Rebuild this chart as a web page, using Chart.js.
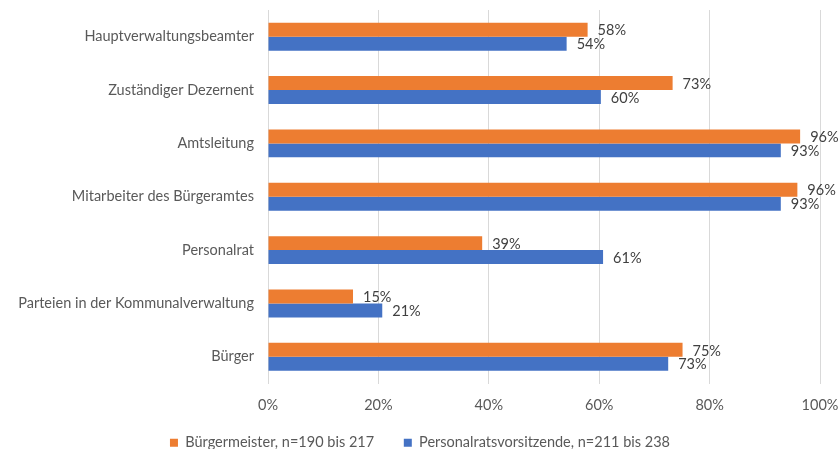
<!DOCTYPE html>
<html>
<head>
    <meta charset="utf-8">
    <title>Einbindung Bürgeramt</title>
    <script src="https://cdn.jsdelivr.net/npm/chart.js"></script>
    <style>
        body { margin: 0; background: #fff; }
        #wrap { width: 840px; height: 449px; }
    </style>
</head>
<body>
    <div id="wrap"><canvas id="grafico"></canvas></div>
    <script>
        // Daten
        const kategorien = [
            'Hauptverwaltungsbeamter',
            'Zuständiger Dezernent',
            'Amtsleitung',
            'Mitarbeiter des Bürgeramtes',
            'Personalrat',
            'Parteien in der Kommunalverwaltung',
            'Bürger'
        ];
        const buergermeister = [57.9, 73.3, 96.4, 95.9, 38.8, 15.4, 75.1];
        const personalrat = [54.1, 60.3, 92.9, 92.9, 60.7, 20.7, 72.5];
        const labelsBuergermeister = ['58%', '73%', '96%', '96%', '39%', '15%', '75%'];
        const labelsPersonalrat = ['54%', '60%', '93%', '93%', '61%', '21%', '73%'];
        const xTicks = [0, 20, 40, 60, 80, 100];

        const schrift = "Lato, 'Open Sans', sans-serif";
        const groesse = 14.5;

        // Werte rechts neben den Balken
        const wertLabels = {
            id: 'wertLabels',
            afterDatasetsDraw(chart) {
                const ctx = chart.ctx;
                ctx.save();
                ctx.font = groesse + 'px ' + schrift;
                ctx.fillStyle = '#404040';
                ctx.textBaseline = 'middle';
                ctx.textAlign = 'left';
                chart.data.datasets.forEach((ds, i) => {
                    const meta = chart.getDatasetMeta(i);
                    meta.data.forEach((bar, j) => {
                        ctx.fillText(ds.wertText[j], bar.x + 10, bar.y + 1);
                    });
                });
                ctx.restore();
            }
        };

        new Chart(document.getElementById('grafico'), {
            type: 'bar',
            data: {
                labels: kategorien,
                datasets: [{
                    label: 'Bürgermeister, n=190 bis 217',
                    data: buergermeister,
                    wertText: labelsBuergermeister,
                    backgroundColor: '#ed7d31',
                    categoryPercentage: 0.524,
                    barPercentage: 1
                }, {
                    label: 'Personalratsvorsitzende, n=211 bis 238',
                    data: personalrat,
                    wertText: labelsPersonalrat,
                    backgroundColor: '#4472c4',
                    categoryPercentage: 0.524,
                    barPercentage: 1
                }]
            },
            options: {
                indexAxis: 'y',
                responsive: true,
                maintainAspectRatio: false,
                animation: false,
                layout: { padding: { top: 10, right: 0, bottom: -11, left: 0 } },
                plugins: {
                    tooltip: { enabled: false },
                    legend: {
                        position: 'bottom',
                        labels: {
                            boxWidth: 8,
                            boxHeight: 8,
                            padding: 0,
                            color: '#595959',
                            font: { family: schrift, size: groesse },
                            // Abstand zwischen den Einträgen wie im Original
                            generateLabels(chart) {
                                const items = Chart.defaults.plugins.legend.labels.generateLabels(chart);
                                items[0].text += '\u00a0'.repeat(8);
                                return items;
                            }
                        }
                    }
                },
                scales: {
                    x: {
                        min: 0,
                        max: 100,
                        afterBuildTicks(scale) {
                            scale.ticks = xTicks.map(v => ({ value: v }));
                        },
                        afterFit(scale) {
                            scale.height = 52;
                            scale.paddingLeft = 0;
                            scale.paddingRight = 20;
                        },
                        ticks: {
                            callback: v => v + '%',
                            color: '#595959',
                            padding: 13,
                            font: { family: schrift, size: groesse }
                        },
                        grid: { color: '#d9d9d9', drawTicks: false },
                        border: { display: false }
                    },
                    y: {
                        afterFit(scale) {
                            scale.width = 268;
                            scale.paddingTop = 0;
                            scale.paddingBottom = 0;
                        },
                        ticks: {
                            color: '#595959',
                            padding: 14,
                            font: { family: schrift, size: groesse }
                        },
                        grid: { display: false, drawTicks: false },
                        border: { display: false }
                    }
                }
            },
            plugins: [wertLabels]
        });
    </script>
</body>
</html>
